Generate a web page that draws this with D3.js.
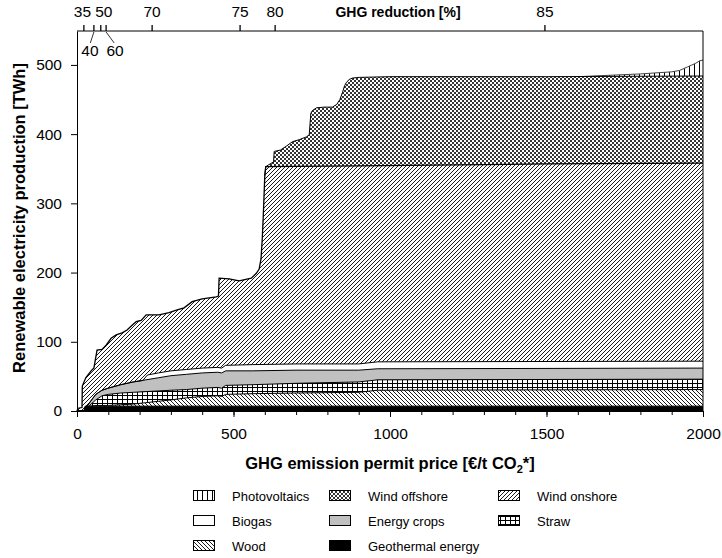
<!DOCTYPE html>
<html>
<head>
<meta charset="utf-8">
<script src="https://d3js.org/d3.v7.min.js"></script>
<style>
  body { margin: 0; background: #fff; }
  svg text { font-family: "Liberation Sans", Arial, sans-serif; fill: #000; }
</style>
</head>
<body>
<div class="container"></div>
<script>
// cumulative top of each layer, [permit price €/t, TWh]
const geothermal = [[0,0],[22,0],[26,7],[2000,7]];
const wood = [[0,0],[22,0],[40,7],[60,8],[100,8],[140,9],[180,10],[220,12],[260,14],[300,16],[350,19],[400,21],[450,22],[462,21],[475,24],[560,25],[700,26],[900,27],[960,30],[2000,31]];
const straw = [[0,0],[22,0],[40,8],[60,16],[80,22],[100,24],[140,26],[180,27],[220,28],[260,29],[300,30],[350,31],[400,33],[450,34],[462,33],[475,37],[560,38],[700,40],[900,42],[960,45],[2000,46]];
const crops = [[0,0],[22,0],[40,12],[60,24],[80,30],[100,33],[140,38],[180,42],[220,45],[260,48],[300,51],[350,53],[400,55],[450,56],[462,55],[475,58],[560,58],[700,59],[900,59],[960,61],[2000,62]];
const biogas = [[0,0],[22,0],[40,12],[60,24],[80,30],[100,33],[140,38],[180,42],[210,44],[225,52],[260,55],[300,58],[350,60],[400,62],[450,63],[462,62],[475,66],[560,67],[700,68],[900,68],[960,71],[2000,72]];
const onshore = [[0,0],[3,4],[16,5],[17,36],[28,48],[45,58],[54,62],[64,88],[80,89],[93,95],[109,105],[125,110],[144,113],[160,117],[176,124],[189,129],[205,131],[221,139],[262,139],[294,142],[320,146],[342,149],[368,158],[400,162],[445,165],[452,166],[454,192],[486,191],[518,188],[557,192],[573,199],[582,205],[588,220],[592,250],[595,280],[600,340],[603,353],[900,354],[1500,357],[2000,358]];
const offshore = [[600,340],[603,353],[610,355],[628,360],[630,375],[650,377],[670,383],[688,389],[710,392],[733,396],[742,399],[747,430],[752,434],[765,438],[790,439],[816,439],[830,443],[840,450],[848,460],[855,470],[861,475],[870,479],[880,481],[902,482],[1000,483],[1500,483],[2000,484]];
const pv = [[1600,483],[1700,485],[1800,487],[1900,490],[1925,492],[1950,497],[1975,502],[1990,506],[2000,507]];

const layerNames = ["Photovoltaics","Wind offshore","Wind onshore","Biogas","Energy crops","Straw","Wood","Geothermal energy"];
const layerData = [pv, offshore, onshore, biogas, crops, straw, wood, geothermal];
const layerFill = ["url(#pv)","url(#off)","url(#on)","#fff","#c0c0c0","url(#straw)","url(#wood)","#000"];

// GHG reduction (top axis) at permit price
const redLabels = [35,40,50,60,70,75,80,85];
const redPrices = [22,54,76,93,240,521,633,1495];

const margin = { top: 31, right: 19, bottom: 147, left: 77 };
const width = 722 - margin.left - margin.right;
const height = 558 - margin.top - margin.bottom;

const svg = d3.select(".container").append("svg")
  .attr("width", 722).attr("height", 558);

const defs = svg.append("defs");
function pattern(id, w, h, d, sw) {
  const p = defs.append("pattern").attr("id", id).attr("patternUnits", "userSpaceOnUse")
    .attr("width", w).attr("height", h);
  p.append("rect").attr("width", w).attr("height", h).attr("fill", "#fff");
  p.append("path").attr("d", d).attr("stroke", "#000").attr("stroke-width", sw).attr("fill", "none");
}
pattern("pv", 5, 5, "M2.5,0V5", 1);
pattern("off", 4, 4, "M0,0L4,4M4,0L0,4M-1,1L1,-1M3,5L5,3M-1,3L1,5M3,-1L5,1", 0.8);
pattern("on", 4, 4, "M-1,1L1,-1M0,4L4,0M3,5L5,3", 0.9);
pattern("wood", 4, 4, "M-1,3L1,5M0,0L4,4M3,-1L5,1", 0.9);
pattern("straw", 5, 4, "M0,0.5H5M0.5,0V4", 1);

const g = svg.append("g").attr("transform", `translate(${margin.left},${margin.top})`);

const x = d3.scaleLinear().domain([0, 2000]).range([0, width]);
const y = d3.scaleLinear().domain([0, 549]).range([height, 0]);

const area = d3.area().x(d => x(d[0])).y0(y(0)).y1(d => y(d[1]));
const line = d3.line().x(d => x(d[0])).y(d => y(d[1]));

// paint from the top layer down, each from zero
layerData.forEach((d, i) => {
  g.append("path").attr("d", area(d)).attr("fill", layerFill[i]);
});
layerData.forEach((d, i) => {
  g.append("path").attr("d", line(d)).attr("fill", "none")
    .attr("stroke", i === 0 ? "#444" : "#000")
    .attr("stroke-width", i === 2 ? 1.3 : 1);
});

// frame on top and right
g.append("line").attr("x1", 0).attr("x2", width).attr("y1", 0).attr("y2", 0).attr("stroke", "#000");
g.append("line").attr("x1", width).attr("x2", width).attr("y1", 0).attr("y2", height).attr("stroke", "#000");

// bottom axis
g.append("g").attr("transform", `translate(0,${height})`)
  .call(d3.axisBottom(x).tickValues(d3.range(0, 2001, 100)).tickSize(4).tickFormat(""))
  .call(a => a.select(".domain").remove());
const xAxis = g.append("g").attr("transform", `translate(0,${height})`)
  .call(d3.axisBottom(x).tickValues(d3.range(0, 2001, 500)).tickSize(6).tickPadding(11)
    .tickSizeOuter(0).tickFormat(d3.format("d")));
xAxis.selectAll("text").attr("font-size", 15.5).attr("font-family", null);

// left axis
const yAxis = g.append("g")
  .call(d3.axisLeft(y).tickValues(d3.range(0, 501, 100)).tickSize(6).tickPadding(9).tickSizeOuter(0));
yAxis.selectAll("text").attr("font-size", 15.5).attr("font-family", null);

g.selectAll(".domain, .tick line").attr("stroke", "#000").attr("stroke-width", 1);

// top axis: GHG reduction
const topAxis = g.append("g");
const labelDx = [-1.5, -4, 3, 9, 0, 0, 0, 0];
redPrices.forEach((p, i) => {
  const tx = x(p);
  topAxis.append("line").attr("x1", tx).attr("x2", tx).attr("y1", 0).attr("y2", -6)
    .attr("stroke", "#000").attr("stroke-width", 1.3);
  const below = redLabels[i] === 40 || redLabels[i] === 60;
  if (below) {
    topAxis.append("line").attr("x1", tx).attr("y1", 1).attr("x2", tx + labelDx[i] * 0.9).attr("y2", 12)
      .attr("stroke", "#000").attr("stroke-width", 0.8);
  }
  topAxis.append("text").attr("x", tx + labelDx[i]).attr("y", below ? 25 : -14)
    .attr("text-anchor", "middle").attr("font-size", 15.5).text(redLabels[i]);
});
topAxis.append("text").attr("x", 321).attr("y", -14).attr("text-anchor", "middle")
  .attr("font-size", 14).attr("font-weight", "bold").text("GHG reduction [%]");

// axis titles
const xt = g.append("text").attr("x", width / 2).attr("y", height + 58).attr("text-anchor", "middle")
  .attr("font-size", 16.5).attr("font-weight", "bold");
xt.append("tspan").text("GHG emission permit price [€/t CO");
xt.append("tspan").attr("font-size", 11).attr("dy", 4).text("2");
xt.append("tspan").attr("dy", -4).text("*]");

g.append("text").attr("transform", `translate(-52,${187}) rotate(-90)`).attr("text-anchor", "middle")
  .attr("font-size", 16.5).attr("font-weight", "bold").text("Renewable electricity production [TWh]");

// legend
const legX = [193, 329, 498];
const legY = [496, 521, 546];
const leg = svg.append("g");
layerNames.forEach((n, i) => {
  const lx = legX[i % 3], ly = legY[Math.floor(i / 3)];
  leg.append("rect").attr("x", lx + 0.5).attr("y", ly - 5.5).attr("width", 21).attr("height", 10)
    .attr("fill", layerFill[i]).attr("stroke", "#000").attr("stroke-width", 1);
  leg.append("text").attr("x", lx + 39).attr("y", ly).attr("dy", "0.35em")
    .attr("font-size", 13).text(n);
});
</script>
</body>
</html>
